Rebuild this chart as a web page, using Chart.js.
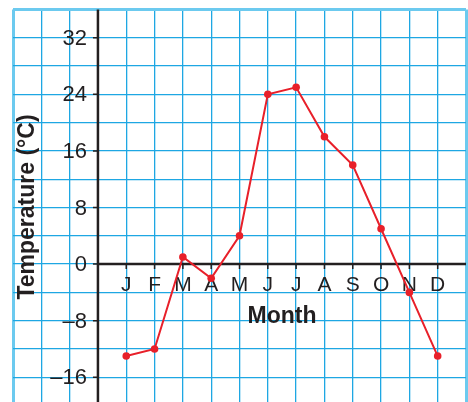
<!DOCTYPE html>
<html>
<head>
    <title>Monthly Temperature</title>
    <script src="https://cdn.jsdelivr.net/npm/chart.js"></script>
    <style>
        body { margin: 0; background: #ffffff; }
        canvas { display: block; }
    </style>
</head>
<body>
    <canvas id="myChart" width="468" height="402"></canvas>
    <script>
        // values
        var months = ['J', 'F', 'M', 'A', 'M', 'J', 'J', 'A', 'S', 'O', 'N', 'D'];
        var temps = [-13, -12, 1, -2, 4, 24, 25, 18, 14, 5, -4, -13];
        var yTickLabels = [-16, -8, 0, 8, 16, 24, 32];

        var ink = '#231f20';
        var gridBlue = '#1ea7e3';
        var edgeBlue = '#6ccaef';

        var points = months.map(function (m, i) {
            return { x: i + 1, y: temps[i] };
        });

        function edgeWidth(min, max) {
            return function (c) {
                var v = c.tick.value;
                return (v === min || v === max) ? 3 : 1.3;
            };
        }
        function edgeColor(min, max) {
            return function (c) {
                var v = c.tick.value;
                return (v === min || v === max) ? edgeBlue : gridBlue;
            };
        }

        // axis lines, tick marks, tick labels and titles
        var axesPlugin = {
            id: 'axes',
            beforeDatasetsDraw: function (chart) {
                var ctx = chart.ctx;
                var xs = chart.scales.x;
                var ys = chart.scales.y;
                var area = chart.chartArea;
                var x0 = xs.getPixelForValue(0);
                var y0 = ys.getPixelForValue(0);

                ctx.save();
                ctx.strokeStyle = ink;
                ctx.lineWidth = 2.5;
                ctx.beginPath();
                ctx.moveTo(x0, area.top);
                ctx.lineTo(x0, area.bottom);
                ctx.moveTo(x0, y0);
                ctx.lineTo(area.right, y0);
                ctx.stroke();

                ctx.lineWidth = 1.5;
                ctx.beginPath();
                yTickLabels.forEach(function (v) {
                    var py = ys.getPixelForValue(v);
                    ctx.moveTo(x0 - 5, py);
                    ctx.lineTo(x0, py);
                });
                months.forEach(function (m, i) {
                    var px = xs.getPixelForValue(i + 1);
                    ctx.moveTo(px, y0);
                    ctx.lineTo(px, y0 + 5);
                });
                ctx.stroke();

                ctx.fillStyle = ink;
                ctx.font = '22px "Liberation Sans", Arial, sans-serif';
                ctx.textAlign = 'right';
                ctx.textBaseline = 'middle';
                yTickLabels.forEach(function (v) {
                    var txt = v < 0 ? '\u2013' + Math.abs(v) : String(v);
                    ctx.fillText(txt, x0 - 11, ys.getPixelForValue(v) + 1);
                });

                ctx.font = '21px "Liberation Sans", Arial, sans-serif';
                ctx.textAlign = 'center';
                ctx.textBaseline = 'alphabetic';
                months.forEach(function (m, i) {
                    ctx.fillText(m, xs.getPixelForValue(i + 1), y0 + 27);
                });

                ctx.font = 'bold 23px "Liberation Sans", Arial, sans-serif';
                ctx.fillText('Month', 282, 323);

                ctx.translate(28, 207);
                ctx.rotate(-Math.PI / 2);
                ctx.textBaseline = 'middle';
                ctx.fillText('Temperature (\u00B0C)', 0, 0);
                ctx.restore();
            }
        };

        var ctx = document.getElementById('myChart').getContext('2d');
        var myChart = new Chart(ctx, {
            type: 'line',
            data: {
                datasets: [{
                    data: points,
                    borderColor: '#e8202a',
                    backgroundColor: '#e8202a',
                    borderWidth: 2,
                    pointRadius: 3.8,
                    pointBorderWidth: 0,
                    pointBackgroundColor: '#e8202a',
                    fill: false,
                    tension: 0
                }]
            },
            options: {
                responsive: false,
                animation: false,
                layout: {
                    autoPadding: false,
                    padding: { left: 13, top: 9.5, right: 2, bottom: 0 }
                },
                plugins: {
                    legend: { display: false },
                    tooltip: { enabled: false }
                },
                scales: {
                    x: {
                        type: 'linear',
                        min: -3,
                        max: 13,
                        afterBuildTicks: function (scale) {
                            var t = [];
                            for (var v = -3; v <= 13; v++) t.push({ value: v });
                            scale.ticks = t;
                        },
                        afterFit: function (scale) { scale.height = 0; },
                        ticks: { display: false },
                        border: { display: false },
                        grid: {
                            drawTicks: false,
                            color: edgeColor(-3, 13),
                            lineWidth: edgeWidth(-3, 13)
                        }
                    },
                    y: {
                        min: -19.5,
                        max: 36,
                        afterBuildTicks: function (scale) {
                            var t = [];
                            for (var v = -16; v <= 36; v += 4) t.push({ value: v });
                            scale.ticks = t;
                        },
                        afterFit: function (scale) { scale.width = 0; },
                        ticks: { display: false },
                        border: { display: false },
                        grid: {
                            drawTicks: false,
                            color: edgeColor(-100, 36),
                            lineWidth: edgeWidth(-100, 36)
                        }
                    }
                }
            },
            plugins: [axesPlugin]
        });
    </script>
</body>
</html>
